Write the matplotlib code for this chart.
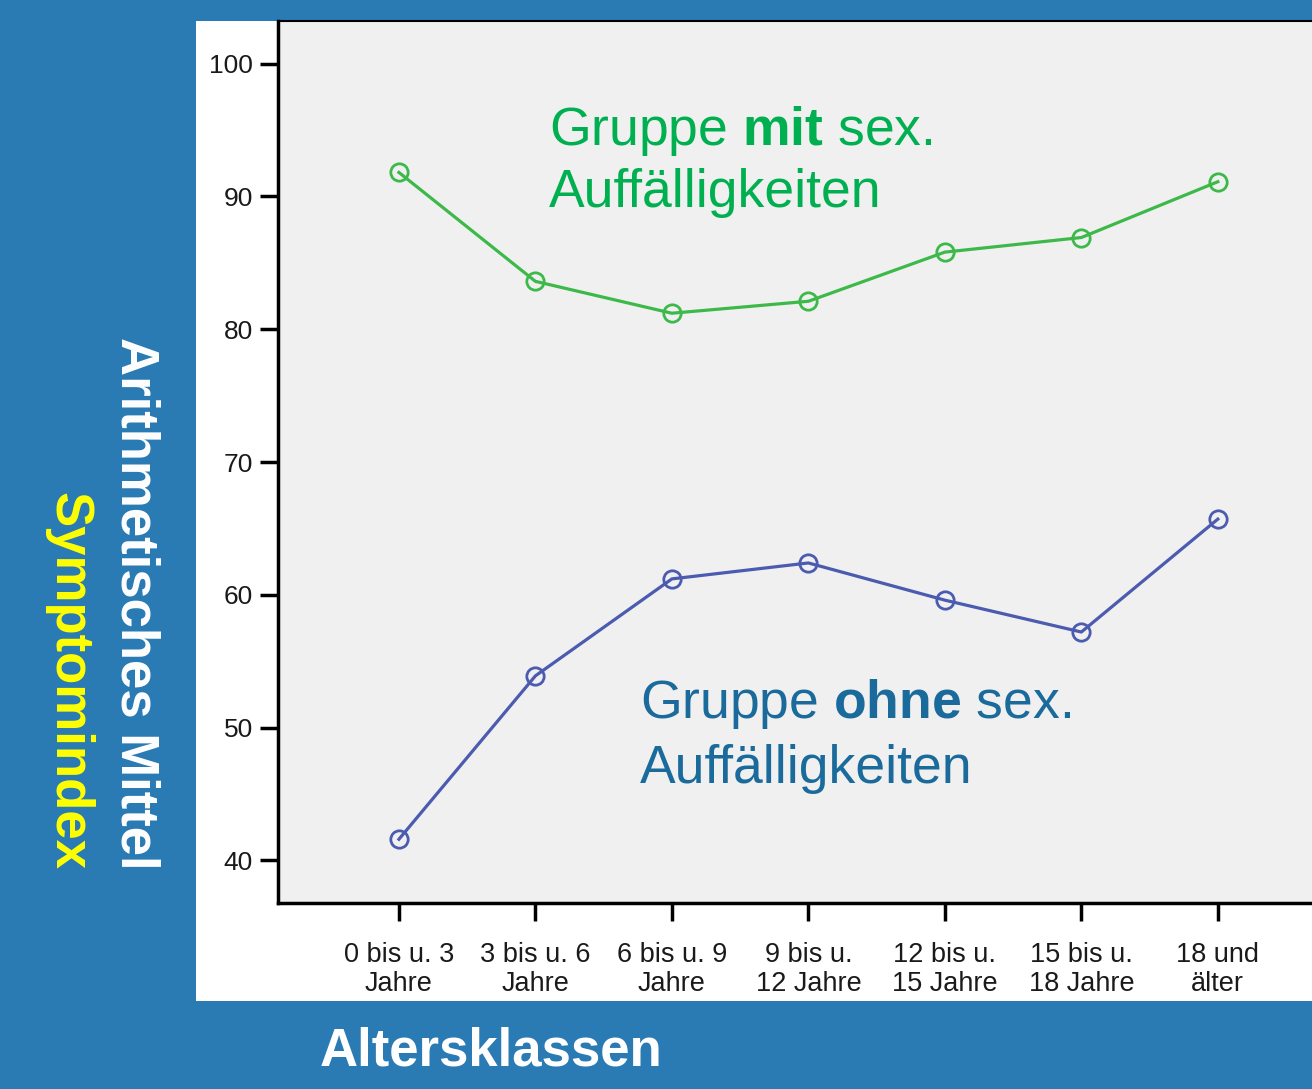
import matplotlib
matplotlib.use("Agg")
from matplotlib import pyplot as plt
from matplotlib.patches import Rectangle

# data
categories = ["0 bis u. 3\nJahre", "3 bis u. 6\nJahre", "6 bis u. 9\nJahre",
              "9 bis u.\n12 Jahre", "12 bis u.\n15 Jahre", "15 bis u.\n18 Jahre",
              "18 und\nälter"]
mit_values = [91.8, 83.6, 81.2, 82.1, 85.8, 86.9, 91.1]
ohne_values = [41.6, 53.9, 61.2, 62.4, 59.6, 57.2, 65.7]
y_ticks = [40, 50, 60, 70, 80, 90, 100]

W, H = 1312, 1089
BG = "#2a7ab4"
GREEN_LINE = "#3db94a"
GREEN_TEXT = "#00b050"
BLUE_LINE = "#4a5bb0"
BLUE_TEXT = "#1a6b9c"

plt.rcParams["font.family"] = ["Liberation Sans", "DejaVu Sans"]
plt.rcParams["mathtext.fontset"] = "custom"
plt.rcParams["mathtext.rm"] = "Liberation Sans"
plt.rcParams["mathtext.bf"] = "Liberation Sans:bold"

fig = plt.figure(figsize=(W / 100, H / 100), dpi=100)
fig.patch.set_facecolor(BG)


def fx(px):
    return px / W


def fy(py):
    return 1 - py / H


# white panel behind the axes
panel = Rectangle((fx(196), fy(1001)), fx(1312) - fx(196), fy(21) - fy(1001),
                  transform=fig.transFigure, facecolor="white",
                  edgecolor="none", zorder=-5)
fig.add_artist(panel)

ax = fig.add_axes([fx(278), fy(903), fx(1312) - fx(278), fy(21) - fy(903)])
ax.set_zorder(2)
ax.set_facecolor("#f0f0f0")

x = list(range(len(categories)))
ax.plot(x, mit_values, color=GREEN_LINE, lw=2.3, marker="o", ms=12.5,
        mfc="none", mec=GREEN_LINE, mew=2)
ax.plot(x, ohne_values, color=BLUE_LINE, lw=2.3, marker="o", ms=12.5,
        mfc="none", mec=BLUE_LINE, mew=2)

ax.set_xlim(-0.886, 6.69)
ax.set_ylim(36.8, 103.2)
ax.set_xticks(x)
ax.set_xticklabels(categories, fontsize=19.5, color="#1a1a1a", linespacing=1.15)
ax.set_yticks(y_ticks)
ax.set_yticklabels([str(v) for v in y_ticks], fontsize=19, color="#1a1a1a")
ax.tick_params(axis="both", length=13, width=2.5, color="black")
ax.tick_params(axis="y", pad=5)
ax.tick_params(axis="x", pad=15)

for side in ["left", "bottom"]:
    ax.spines[side].set_linewidth(2.5)
    ax.spines[side].set_color("black")
ax.spines["top"].set_linewidth(1.5)
ax.spines["right"].set_visible(False)

# group labels
ax.text(fx(549), fy(145), "Gruppe $\\mathbf{mit}$ sex.", transform=fig.transFigure,
        fontsize=38.5, color=GREEN_TEXT, va="baseline", ha="left")
ax.text(fx(549), fy(207), "Auffälligkeiten", transform=fig.transFigure,
        fontsize=38.5, color=GREEN_TEXT, va="baseline", ha="left")
ax.text(fx(640), fy(718), "Gruppe $\\mathbf{ohne}$ sex.", transform=fig.transFigure,
        fontsize=38.5, color=BLUE_TEXT, va="baseline", ha="left")
ax.text(fx(640), fy(783), "Auffälligkeiten", transform=fig.transFigure,
        fontsize=38.5, color=BLUE_TEXT, va="baseline", ha="left")

# axis titles
fig.text(fx(491), fy(1052), "Altersklassen", fontsize=38, fontweight="bold",
         color="white", ha="center", va="center")
fig.text(fx(135), fy(870), "Arithmetisches Mittel", fontsize=38, fontweight="bold",
         color="white", rotation=-90, ha="center", va="bottom")
fig.text(fx(68), fy(870), "Symptomindex", fontsize=38, fontweight="bold",
         color="#ffff00", rotation=-90, ha="center", va="bottom")

fig.savefig("out.png", dpi=100, facecolor=fig.get_facecolor())
